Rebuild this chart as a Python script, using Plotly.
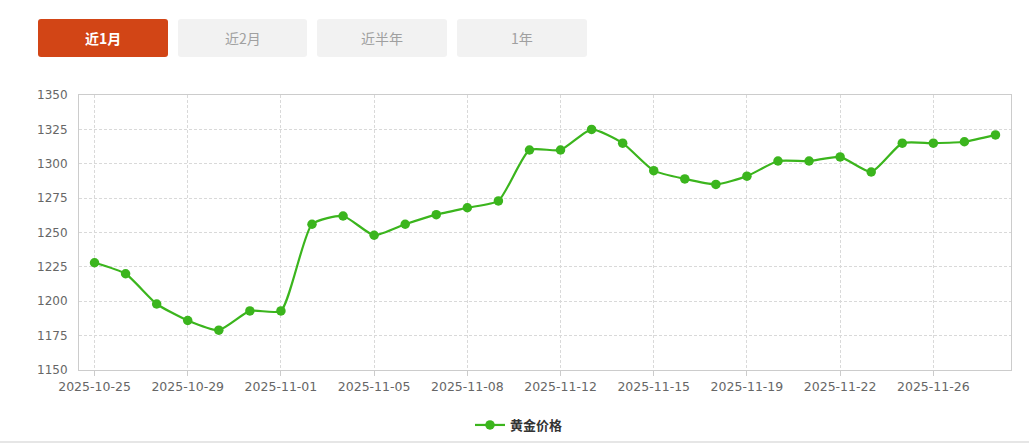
import plotly.graph_objects as go

dates = [
    "2025-10-25", "2025-10-27", "2025-10-28", "2025-10-29", "2025-10-30", "2025-10-31",
    "2025-11-01", "2025-11-03", "2025-11-04", "2025-11-05", "2025-11-06", "2025-11-07",
    "2025-11-08", "2025-11-10", "2025-11-11", "2025-11-12", "2025-11-13", "2025-11-14",
    "2025-11-15", "2025-11-17", "2025-11-18", "2025-11-19", "2025-11-20", "2025-11-21",
    "2025-11-22", "2025-11-24", "2025-11-25", "2025-11-26", "2025-11-27", "2025-11-28",
]
prices = [
    1228, 1220, 1198, 1186, 1179, 1193,
    1193, 1256, 1262, 1248, 1256, 1263,
    1268, 1273, 1310, 1310, 1325, 1315,
    1295, 1289, 1285, 1291, 1302, 1302,
    1305, 1294, 1315, 1315, 1316, 1321,
]
series_name = "黄金价格"
buttons = ["近1月", "近2月", "近半年", "1年"]
y_ticks = [1150, 1175, 1200, 1225, 1250, 1275, 1300, 1325, 1350]
label_step = 3

W, H = 1029, 445
L, R, T, B = 79, 1011, 95, 370
pw, ph = R - L, B - T


def px(x):
    return (x - L) / pw


def py(y):
    return (B - y) / ph


def rounded_rect(x0, y0, x1, y1, r):
    pts = [
        f"M {px(x0 + r)} {py(y0)}",
        f"L {px(x1 - r)} {py(y0)}",
        f"Q {px(x1)} {py(y0)} {px(x1)} {py(y0 + r)}",
        f"L {px(x1)} {py(y1 - r)}",
        f"Q {px(x1)} {py(y1)} {px(x1 - r)} {py(y1)}",
        f"L {px(x0 + r)} {py(y1)}",
        f"Q {px(x0)} {py(y1)} {px(x0)} {py(y1 - r)}",
        f"L {px(x0)} {py(y0 + r)}",
        f"Q {px(x0)} {py(y0)} {px(x0 + r)} {py(y0)}",
        "Z",
    ]
    return " ".join(pts)


fig = go.Figure()
fig.add_trace(go.Scatter(
    x=dates, y=prices, name=series_name, mode="lines+markers",
    line=dict(color="#3bb51d", width=2.2, shape="spline", smoothing=0.55),
    marker=dict(color="#3bb51d", size=9.5),
))

shapes = []
annotations = []
btn_x = [(38, 168), (178, 307), (317, 447), (457, 587)]
for i, (label, (x0, x1)) in enumerate(zip(buttons, btn_x)):
    active = i == 0
    shapes.append(dict(
        type="path", xref="paper", yref="paper",
        path=rounded_rect(x0, 19, x1, 57, 3),
        fillcolor="#d24516" if active else "#f2f2f2", line=dict(width=0), layer="above",
    ))
    annotations.append(dict(
        xref="paper", yref="paper", x=px((x0 + x1) / 2), y=py(38),
        text=f"<b>{label}</b>" if active else label, showarrow=False,
        font=dict(size=14, color="#ffffff" if active else "#a0a0a0",
                  family="Noto Sans CJK SC"),
        xanchor="center", yanchor="middle",
    ))

shapes.append(dict(
    type="line", xref="paper", yref="paper", x0=px(0), x1=px(W), y0=py(442), y1=py(442),
    line=dict(color="#e6e6e6", width=2),
))

fig.update_layout(
    width=W, height=H, autosize=False,
    margin=dict(l=L, r=W - R, t=T, b=H - B, autoexpand=False),
    paper_bgcolor="white", plot_bgcolor="white",
    showlegend=True,
    legend=dict(orientation="h", xref="container", yref="container",
                x=519 / W, xanchor="center", y=(H - 425) / H, yanchor="middle",
                font=dict(size=13, color="#333333", family="Noto Sans CJK SC", weight="bold"),
                itemwidth=30),
    shapes=shapes, annotations=annotations,
    xaxis=dict(
        type="category", range=[-0.5, len(dates) - 0.5],
        tickvals=dates[::label_step], ticktext=dates[::label_step],
        showgrid=True, gridcolor="#d9d9d9", griddash="3px,2px", gridwidth=1,
        showline=True, linecolor="#cccccc", linewidth=1, mirror=True,
        ticks="outside", ticklen=5, tickcolor="#cccccc",
        tickfont=dict(size=12.5, color="#666666", family="DejaVu Sans"),
        zeroline=False, fixedrange=True,
    ),
    yaxis=dict(
        range=[1150, 1350], tickvals=y_ticks,
        showgrid=True, gridcolor="#d9d9d9", griddash="3px,2px", gridwidth=1,
        showline=True, linecolor="#cccccc", linewidth=1, mirror=True,
        ticks="", ticklabelstandoff=8,
        tickfont=dict(size=12, color="#666666", family="DejaVu Sans"),
        zeroline=False, fixedrange=True,
    ),
    hovermode="x",
)

fig.write_html("out.html", config={"displayModeBar": False},
               post_script="document.body.style.margin='0';document.body.style.overflow='hidden';")
